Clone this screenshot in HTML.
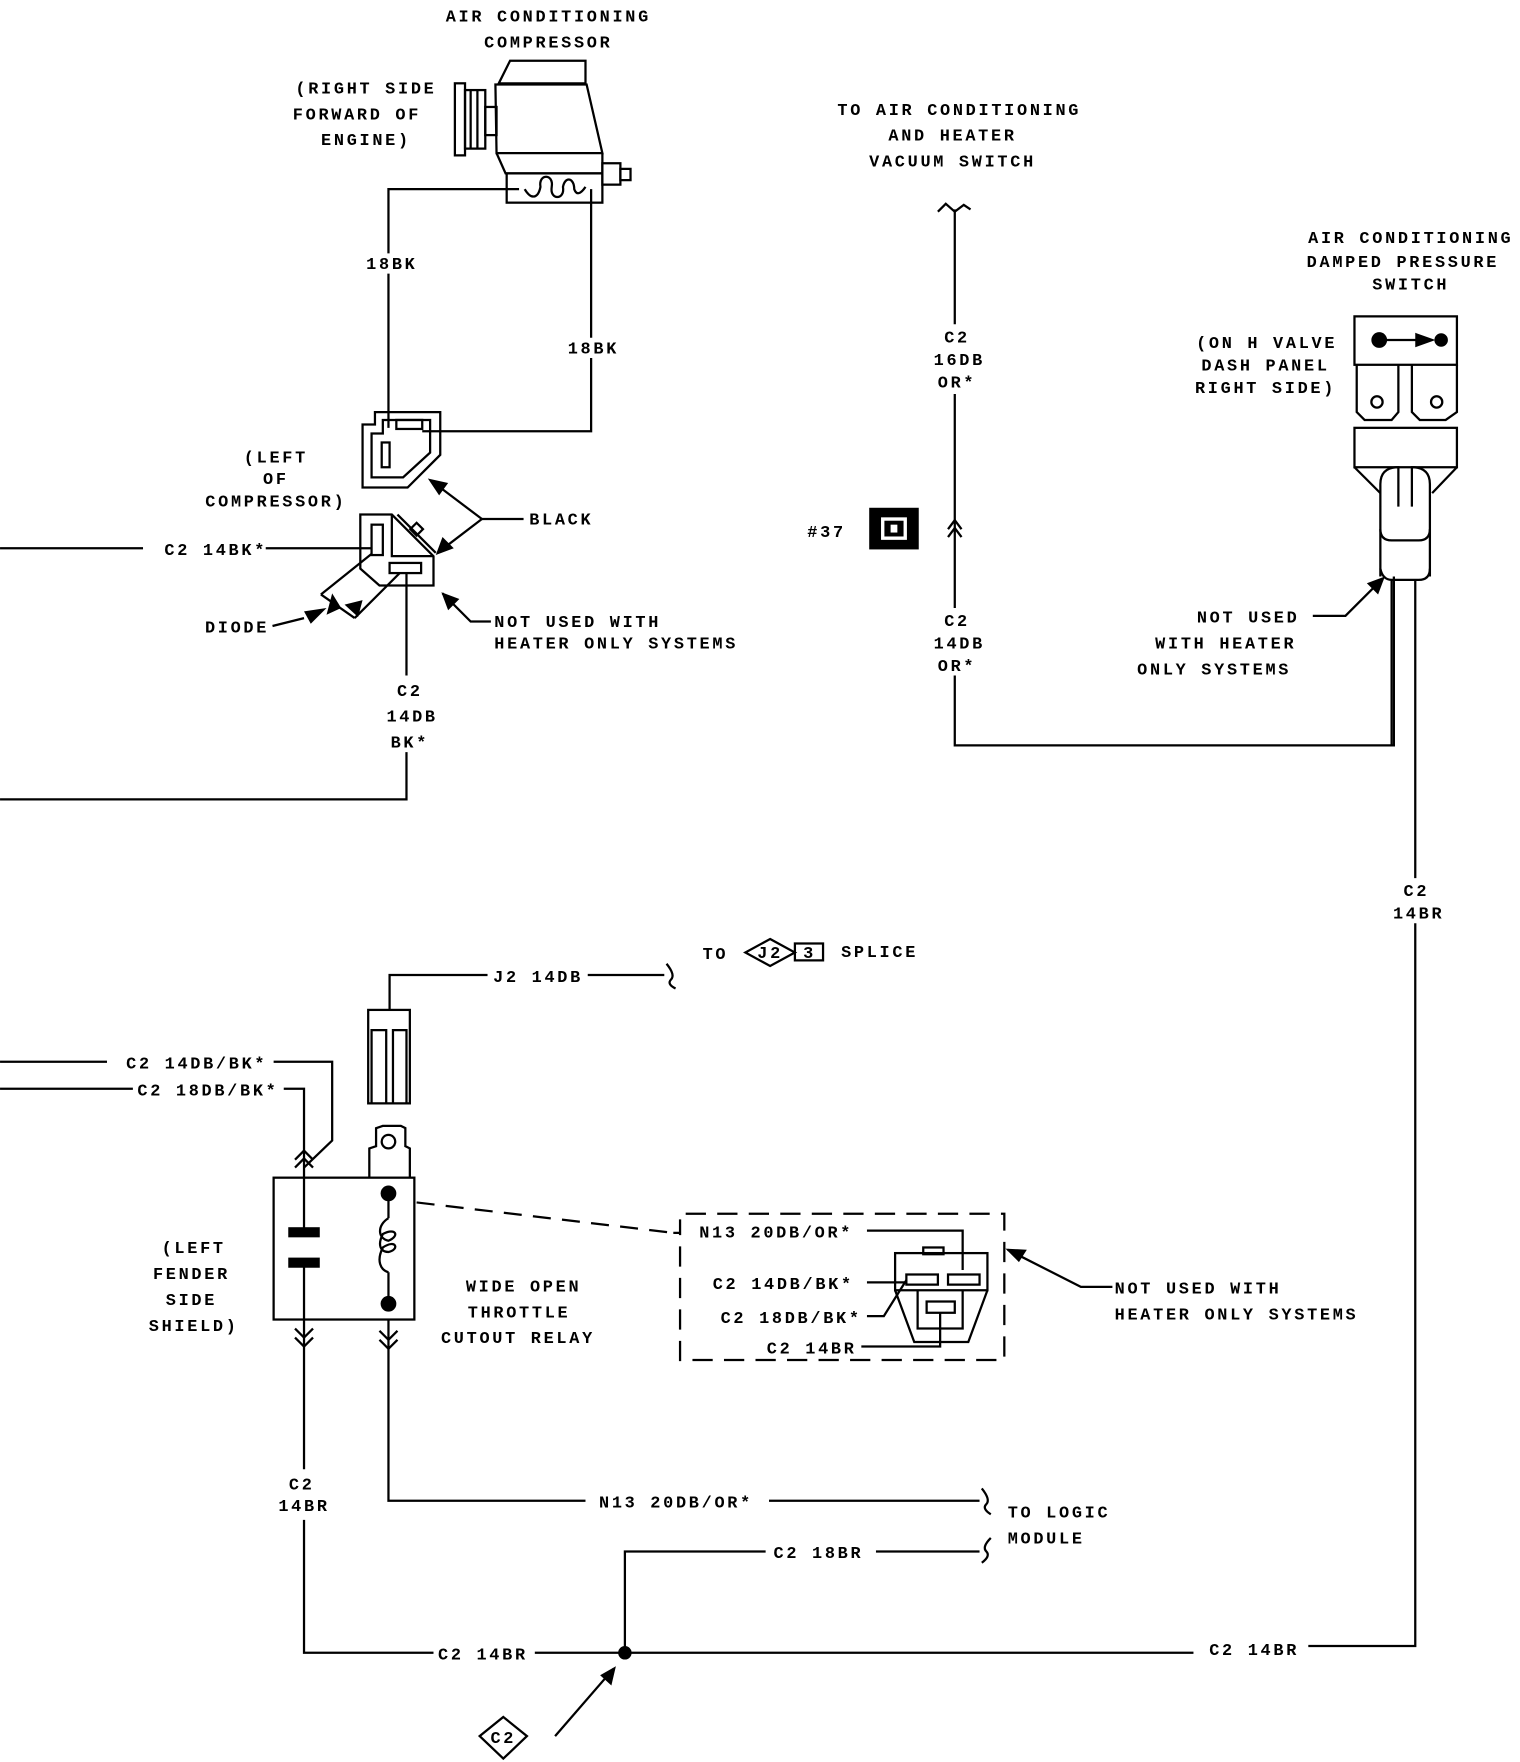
<!DOCTYPE html>
<html><head><meta charset="utf-8"><style>
html,body{margin:0;padding:0;background:#fff;}
svg{display:block;}
text{font-family:"Liberation Mono",monospace;font-size:15px;font-weight:bold;letter-spacing:2.4px;fill:#000;}
</style></head><body>
<svg width="1520" height="1762" viewBox="0 0 1350 1565" xmlns="http://www.w3.org/2000/svg">
<g fill="none" stroke="#000" stroke-width="2">
<!-- compressor -->
<polygon points="443,74 453,54 520,54 520,74"/>
<polygon points="440,75 521,75 535,136 441,136"/>
<polyline points="441,136 449,154 535,154 535,136"/>
<rect x="450" y="154" width="85" height="26"/>
<rect x="404" y="74" width="9" height="64"/>
<rect x="413" y="80" width="18" height="52"/>
<line x1="418" y1="80" x2="418" y2="132"/>
<line x1="424" y1="80" x2="424" y2="132"/>
<rect x="431" y="95" width="10" height="25"/>
<rect x="535" y="145" width="16" height="19"/>
<rect x="551" y="150" width="9" height="10"/>
<path d="M466,168 C472,178 478,176 480,166 C478,154 492,154 490,166 C488,178 502,178 500,166 C502,156 510,158 510,168 C512,174 516,172 520,166"/>
<!-- wires from compressor -->
<polyline points="461,168 345,168 345,225"/>
<polyline points="345,243 345,380"/>
<polyline points="525,168 525,300"/>
<polyline points="525,318 525,383 375,383"/>
<!-- upper connector -->
<polygon points="322,377 333,377 333,366 391,366 391,404 362,433 322,433"/>
<polygon points="330,385 340,385 340,373 382,373 382,402 358,424 330,424"/>
<rect x="352" y="373" width="23" height="8"/>
<rect x="339" y="393" width="7" height="22"/>
<!-- lower connector -->
<polygon points="320,457 348,457 385,494 385,520 337,520 320,505"/>
<polyline points="348,457 348,494 385,494"/>
<line x1="353" y1="457" x2="387" y2="491"/>
<rect x="366" y="466" width="8" height="8" transform="rotate(45 370 470)"/>
<rect x="330" y="466" width="10" height="27"/>
<rect x="346" y="500" width="28" height="9"/>
<!-- C2 14BK* -->
<line x1="0" y1="487" x2="127" y2="487"/>
<line x1="236" y1="487" x2="330" y2="487"/>
<line x1="361" y1="509" x2="361" y2="600"/>
<polyline points="361,668 361,710 0,710"/>
<!-- diode -->
<line x1="330" y1="492" x2="285" y2="528"/>
<line x1="355" y1="509" x2="315" y2="549"/>
<line x1="285" y1="528" x2="315" y2="549"/>
<line x1="242" y1="556" x2="270" y2="549"/>
<!-- BLACK arrows -->
<line x1="428" y1="461" x2="465" y2="461"/>
<line x1="428" y1="461" x2="383" y2="427"/>
<line x1="428" y1="461" x2="390" y2="490"/>
<polyline points="436,552 418,552 393,527"/>
<!-- middle wire -->
<path d="M833,188 L840,181 L848,188 L856,182 L862,186"/>
<line x1="848" y1="186" x2="848" y2="288"/>
<line x1="848" y1="350" x2="848" y2="540"/>
<polyline points="842,470 848,462 854,470"/>
<polyline points="842,477 848,469 854,477"/>
<polyline points="848,600 848,662 1238,662 1238,512"/>
<!-- #37 -->
<rect x="773" y="452" width="42" height="35" fill="#000"/>
<rect x="784" y="461" width="20" height="17" stroke="#fff" stroke-width="3"/>
<rect x="791" y="466" width="6" height="7" fill="#fff" stroke="none"/>
<!-- right switch -->
<rect x="1203" y="281" width="91" height="43"/>
<circle cx="1225" cy="302" r="6" fill="#000"/>
<circle cx="1280" cy="302" r="5" fill="#000"/>
<line x1="1225" y1="302" x2="1262" y2="302"/>
<polygon points="1258,297 1272,302 1258,307" fill="#000"/>
<polyline points="1205,324 1205,366 1212,373 1236,373 1242,366 1242,324"/>
<polyline points="1254,324 1254,366 1261,373 1284,373 1294,366 1294,324"/>
<circle cx="1223" cy="357" r="5"/>
<circle cx="1276" cy="357" r="5"/>
<rect x="1203" y="380" width="91" height="35"/>
<polyline points="1203,415 1226,438"/>
<polyline points="1294,415 1272,438"/>
<path d="M1226,512 L1226,430 Q1226,416 1240,415 L1242,415 L1242,450"/>
<path d="M1270,512 L1270,430 Q1270,416 1256,415 L1254,415 L1254,450"/>
<path d="M1226,470 Q1226,480 1236,480 L1260,480 Q1270,480 1270,470"/>
<path d="M1226,505 Q1228,515 1236,515 L1260,515 Q1270,515 1270,505"/>
<line x1="1236" y1="515" x2="1236" y2="662"/>
<line x1="1257" y1="515" x2="1257" y2="780"/>
<polyline points="1257,820 1257,1462 1162,1462"/>
<polyline points="1166,547 1195,547 1228,514"/>
<!-- bottom -->
<polyline points="346,897 346,866 433,866"/>
<line x1="522" y1="866" x2="590" y2="866"/>
<path d="M592,856 Q600,866 596,870 Q592,874 600,878"/>
<polygon points="684,834 706,846 684,858 662,846"/>
<rect x="706" y="838" width="25" height="15"/>
<rect x="327" y="897" width="37" height="83"/>
<polyline points="330,980 330,915 343,915 343,980"/>
<polyline points="361,980 361,915 349,915 349,980"/>
<polyline points="328,1046 328,1020 334,1018 334,1002 340,1000 356,1000 360,1002 360,1018 364,1020 364,1046"/>
<circle cx="345" cy="1014" r="6"/>
<rect x="243" y="1046" width="125" height="126"/>
<polyline points="0,943 95,943"/>
<polyline points="243,943 295,943 295,1013 270,1037"/>
<polyline points="0,967 118,967"/>
<polyline points="252,967 270,967 270,1092"/>
<polyline points="262,1030 270,1022 278,1030"/>
<polyline points="262,1037 270,1029 278,1037"/>
<line x1="270" y1="1125" x2="270" y2="1305"/>
<polyline points="262,1180 270,1188 278,1180"/>
<polyline points="262,1188 270,1196 278,1188"/>
<polyline points="270,1350 270,1468 385,1468"/>
<line x1="475" y1="1468" x2="1060" y2="1468"/>
<polyline points="345,1060 345,1082"/>
<path d="M345,1082 C335,1088 335,1100 345,1102 C355,1098 352,1090 340,1096 C335,1106 338,1112 345,1112 C355,1110 352,1100 340,1108 C334,1120 338,1128 345,1130"/>
<polyline points="345,1130 345,1158"/>
<circle cx="345" cy="1060" r="6" fill="#000"/>
<circle cx="345" cy="1158" r="6" fill="#000"/>
<polyline points="337,1182 345,1190 353,1182"/>
<polyline points="337,1190 345,1198 353,1190"/>
<polyline points="345,1172 345,1333 520,1333"/>
<line x1="683" y1="1333" x2="870" y2="1333"/>
<path d="M872,1322 Q880,1332 876,1336 Q872,1340 880,1345"/>
<polyline points="555,1468 555,1378 680,1378"/>
<line x1="778" y1="1378" x2="870" y2="1378"/>
<path d="M880,1366 Q872,1374 876,1378 Q880,1382 872,1388"/>
<circle cx="555" cy="1468" r="5" fill="#000"/>
<polygon points="447,1525 468,1542 447,1562 426,1542"/>
<line x1="493" y1="1542" x2="545" y2="1482"/>
<!-- dashed -->
<line x1="370" y1="1068" x2="598" y2="1095" stroke-dasharray="16,10"/>
<polyline points="598,1095 604,1095 604,1078 892,1078 892,1208 604,1208 604,1095" stroke-dasharray="18,10"/>
<polyline points="770,1093 855,1093 855,1128"/>
<rect x="795" y="1113" width="82" height="33"/>
<rect x="820" y="1108" width="18" height="6"/>
<polyline points="795,1146 812,1192 860,1192 877,1146"/>
<polyline points="815,1146 815,1180 855,1180 855,1146"/>
<rect x="805" y="1132" width="28" height="9"/>
<rect x="842" y="1132" width="28" height="9"/>
<rect x="823" y="1156" width="25" height="10"/>
<line x1="770" y1="1139" x2="805" y2="1139"/>
<polyline points="770,1169 785,1169 805,1137"/>
<polyline points="765,1196 835,1196 835,1166"/>
<polyline points="988,1143 960,1143 895,1110"/>
</g>
<!-- capacitor plates -->
<rect x="256" y="1090" width="28" height="9" fill="#000"/>
<rect x="256" y="1117" width="28" height="9" fill="#000"/>
<!-- arrowheads -->
<g fill="#000">
<polygon points="380,425 398,429 390,440"/>
<polygon points="387,493 393,477 403,487"/>
<polygon points="392,526 408,532 398,542"/>
<polygon points="290,540 270,543 276,554"/>
<polygon points="1230,512 1214,518 1224,528"/>
<polygon points="893,1109 905,1121 912,1110"/>
<polygon points="547,1480 533,1488 543,1497"/>
<polygon points="295,527 303,540 290,546"/>
<polygon points="318,548 306,537 322,533"/>
</g>
<g text-anchor="middle">
<text x="487" y="19">AIR CONDITIONING</text>
<text x="487" y="42">COMPRESSOR</text>
<text x="325" y="83">(RIGHT SIDE</text>
<text x="317" y="106">FORWARD OF</text>
<text x="325" y="129">ENGINE)</text>
<text x="348" y="239">18BK</text>
<text x="527" y="314">18BK</text>
<text x="245" y="411">(LEFT</text>
<text x="245" y="430">OF</text>
<text x="245" y="450">COMPRESSOR)</text>
<text x="364" y="618">C2</text>
<text x="366" y="641">14DB</text>
<text x="364" y="664">BK*</text>
<text x="852" y="102">TO AIR CONDITIONING</text>
<text x="846" y="125">AND HEATER</text>
<text x="846" y="148">VACUUM SWITCH</text>
<text x="850" y="304">C2</text>
<text x="852" y="324">16DB</text>
<text x="850" y="344">OR*</text>
<text x="850" y="556">C2</text>
<text x="852" y="576">14DB</text>
<text x="850" y="596">OR*</text>
<text x="1253" y="216">AIR CONDITIONING</text>
<text x="1246" y="237">DAMPED PRESSURE</text>
<text x="1253" y="257">SWITCH</text>
<text x="1125" y="309">(ON H VALVE</text>
<text x="1124" y="329">DASH PANEL</text>
<text x="1124" y="349">RIGHT SIDE)</text>
<text x="1258" y="796">C2</text>
<text x="1260" y="816">14BR</text>
<text x="684" y="851">J2</text>
<text x="719" y="851">3</text>
<text x="172" y="1113">(LEFT</text>
<text x="170" y="1136">FENDER</text>
<text x="170" y="1159">SIDE</text>
<text x="172" y="1182">SHIELD)</text>
<text x="465" y="1147">WIDE OPEN</text>
<text x="461" y="1170">THROTTLE</text>
<text x="460" y="1193">CUTOUT RELAY</text>
<text x="268" y="1323">C2</text>
<text x="270" y="1342">14BR</text>
<text x="447" y="1548">C2</text>
</g>
<text x="470" y="466">BLACK</text>
<text x="146" y="493">C2 14BK*</text>
<text x="182" y="562">DIODE</text>
<text x="439" y="557">NOT USED WITH</text>
<text x="439" y="576">HEATER ONLY SYSTEMS</text>
<text x="717" y="477">#37</text>
<text x="1063" y="553">NOT USED</text>
<text x="1026" y="576">WITH HEATER</text>
<text x="1010" y="599">ONLY SYSTEMS</text>
<text x="438" y="872">J2 14DB</text>
<text x="624" y="852">TO</text>
<text x="747" y="850">SPLICE</text>
<text x="112" y="949">C2 14DB/BK*</text>
<text x="122" y="973">C2 18DB/BK*</text>
<text x="621" y="1099">N13 20DB/OR*</text>
<text x="633" y="1145">C2 14DB/BK*</text>
<text x="640" y="1175">C2 18DB/BK*</text>
<text x="681" y="1202">C2 14BR</text>
<text x="990" y="1149">NOT USED WITH</text>
<text x="990" y="1172">HEATER ONLY SYSTEMS</text>
<text x="532" y="1339">N13 20DB/OR*</text>
<text x="895" y="1348">TO LOGIC</text>
<text x="895" y="1371">MODULE</text>
<text x="687" y="1384">C2 18BR</text>
<text x="389" y="1474">C2 14BR</text>
<text x="1074" y="1470">C2 14BR</text>
</svg>
</body></html>
